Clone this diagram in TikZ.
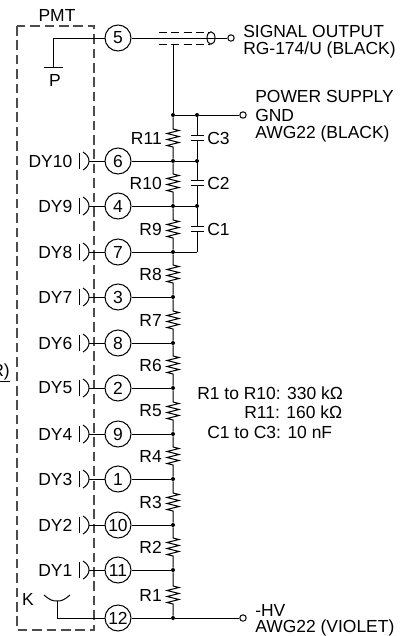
\documentclass[tikz,border=0pt]{standalone}
\usepackage{fontspec}
\setmainfont{Liberation Sans}
\tikzset{
 x=0.75pt,y=-0.75pt,
 txt/.style={inner sep=0pt,font=\fontsize{13.1pt}{15pt}\selectfont},
 pin/.style={draw,circle,minimum size=19.5pt,inner sep=0pt,line width=0.75pt,fill=white,font=\fontsize{13.1pt}{15pt}\selectfont},
 wire/.style={line width=0.75pt},
 dot/.style={circle,fill=black,inner sep=0pt,minimum size=3pt},
 term/.style={draw,circle,inner sep=0pt,minimum size=4.8pt,line width=0.75pt,fill=white},
 boxline/.style={dash pattern=on 7.2pt off 3.6pt,line width=0.8pt,draw=black!70},
 shield/.style={dash pattern=on 6pt off 3.2pt,line width=0.6pt},
 plate/.style={line width=0.8pt},
}
\begin{document}
\begin{tikzpicture}
\useasboundingbox (0,0) rectangle (414,636);
\draw[boxline] (17,26) rectangle (94,630);
\node[txt] (pmt) at (57,15) {PMT};
% sockets
\node[pin] (p5) at (118,38) {5};
\foreach \n/\lab/\y/\dy in {6/6/161/DY10,4/4/206/DY9,7/7/252/DY8,3/3/297/DY7,8/8/343/DY6,2/2/388/DY5,9/9/434/DY4,1/1/479/DY3,10/10/525/DY2,11/11/570/DY1}{
  \node[pin] (p\n) at (118,\y) {\lab};
  \coordinate (d\n) at (89,\y);
  \node[txt,anchor=east] (l\n) at (72.5,\y) {\dy};
  \draw[wire] (79.5,\y-8) -- (79.5,\y+8);
  \draw[wire] (83,\y-9) .. controls (87,\y-6.5) and (89,\y-3.5) .. (d\n) .. controls (89,\y+3.5) and (87,\y+6.5) .. (83,\y+9);
  \draw[wire] (d\n) -- (p\n);
  \node[dot] (j\n) at (173,\y) {};
  \draw[wire] (p\n) -- (j\n);
}
\node[pin] (p12) at (118,618) {12};
% P
\coordinate (pc) at (53,38);
\coordinate (pb) at (53,67);
\draw[wire] (p5) -- (pc) -- (pb);
\draw[wire] (44,67) -- (63,67);
\node[txt] (plab) at (55,80) {P};
% K
\draw[wire] (44,595) .. controls (50,600) and (52,601) .. (57,601) .. controls (62,601) and (64,600) .. (70,595);
\coordinate (kc) at (57,618);
\draw[wire] (57,601) -- (kc) -- (p12);
\node[txt] (klab) at (28,599) {K};
% signal
\node[term] (tsig) at (231,38) {};
\draw[wire] (p5) -- (tsig);
\draw[shield] (159,32) -- (210,32);
\draw[shield] (159,44) -- (210,44);
\draw[wire] (211,38) ellipse [x radius=4,y radius=6.2];
\coordinate (s) at (173,44);
% rail
\node[dot] (jt) at (173,115) {};
\node[dot] (ct) at (197,115) {};
\node[term] (tgnd) at (243,115) {};
\draw[wire] (s) -- (jt) -- (ct) -- (tgnd);
% resistors
\node[dot] (jb) at (173,618) {};
\node[term] (thv) at (243,618) {};
\draw[wire] (p12) -- (jb) -- (thv);
\foreach \a/\b/\lab/\y in {jt/j6/R11/138,j6/j4/R10/183,j4/j7/R9/229,j7/j3/R8/274,j3/j8/R7/320,j8/j2/R6/365,j2/j9/R5/411,j9/j1/R4/456,j1/j10/R3/502,j10/j11/R2/547,j11/jb/R1/595}{
  \draw[wire] (\a) -- (173,\y-9) -- (179,\y-7.5) -- (167,\y-4.5) -- (179,\y-1.5) -- (167,\y+1.5) -- (179,\y+4.5) -- (167,\y+7.5) -- (173,\y+9) -- (\b);
  \node[txt,anchor=east] (n\lab) at (162,\y) {\lab};
}
% capacitors
\node[dot] (c6) at (197,161) {};
\node[dot] (c4) at (197,206) {};
\coordinate (c7) at (197,252);
\draw[wire] (j6) -- (c6);
\draw[wire] (j4) -- (c4);
\draw[wire] (j7) -- (c7);
\foreach \a/\b/\lab/\y in {ct/c6/C3/138,c6/c4/C2/183,c4/c7/C1/229}{
  \coordinate (u\lab) at (197,\y-2.3);
  \coordinate (v\lab) at (197,\y+2.3);
  \draw[wire] (\a) -- (u\lab);
  \draw[wire] (v\lab) -- (\b);
  \draw[plate] (190.5,\y-2.3) -- (203.5,\y-2.3);
  \draw[plate] (190.5,\y+2.3) -- (203.5,\y+2.3);
  \node[txt,anchor=west] (n\lab) at (207,\y) {\lab};
}
% texts
\node[txt,anchor=west] (a1) at (243,31) {SIGNAL OUTPUT};
\node[txt,anchor=west] (a2) at (243,50) {RG-174/U (BLACK)};
\node[txt,anchor=west] (b1) at (255,96) {POWER SUPPLY};
\node[txt,anchor=west] (b2) at (255,115) {GND};
\node[txt,anchor=west] (b3) at (255,134) {AWG22 (BLACK)};
\node[txt,anchor=west] (h1) at (255,610) {-HV};
\node[txt,anchor=west] (h2) at (255,628) {AWG22 (VIOLET)};
\node[txt,anchor=west] (r1) at (197,393) {R1 to R10: 330 kΩ};
\node[txt,anchor=west] (r2) at (244,412) {R11: 160 kΩ};
\node[txt,anchor=west] (r3) at (207,432) {C1 to C3: 10 nF};
\node[txt,anchor=east] (rr) at (10,373) {\underline{R)}};
\end{tikzpicture}
\end{document}
